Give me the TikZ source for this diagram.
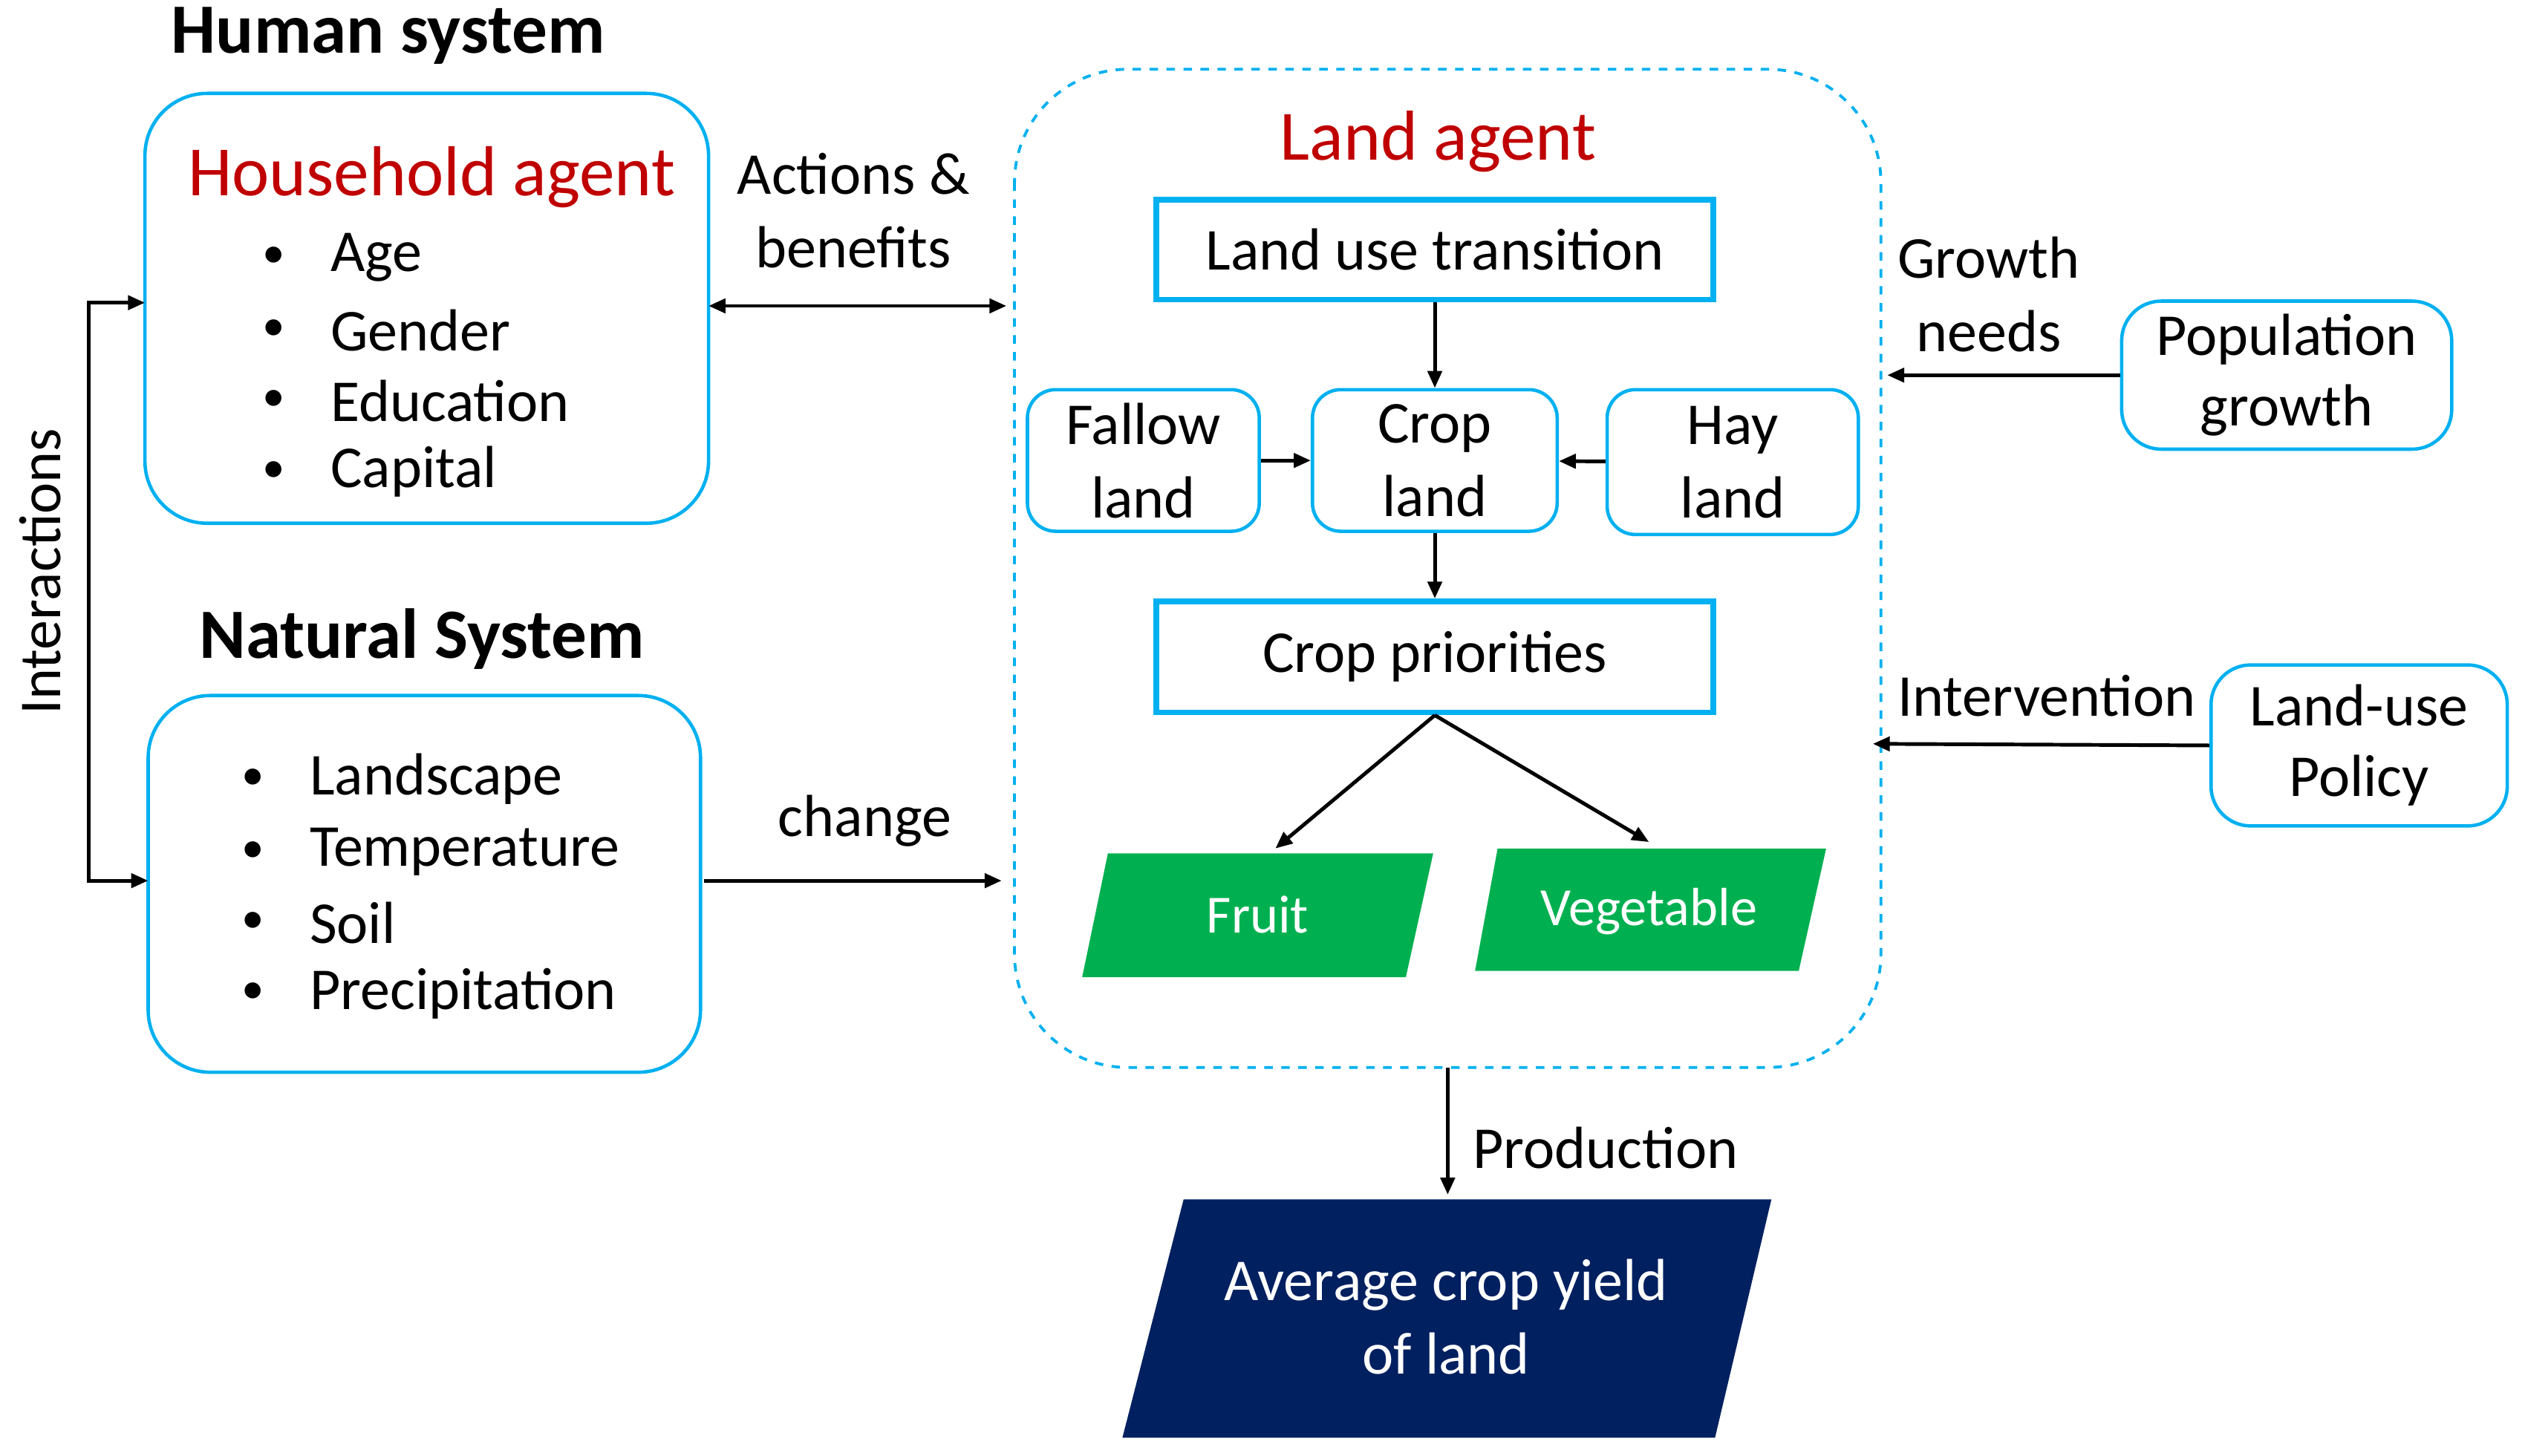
\documentclass[tikz,border=0pt]{standalone}
\usepackage{fontspec}
\setmainfont{Carlito}
\usetikzlibrary{arrows.meta}
\definecolor{cy}{RGB}{0,176,240}
\definecolor{rd}{RGB}{192,0,0}
\definecolor{gr}{RGB}{0,176,80}
\definecolor{nv}{RGB}{0,32,96}
\begin{document}
\begin{tikzpicture}[x=0.02cm,y=-0.02cm,
 rbox/.style={draw=cy,line width=1.2pt,rounded corners=14pt},
 sbox/.style={draw=cy,line width=2pt},
 t/.style={font=\fontsize{21}{24}\selectfont,inner sep=0pt},
 b/.style={font=\fontsize{25}{28}\selectfont\bfseries,inner sep=0pt},
 bul/.style={font=\fontsize{16}{20}\selectfont,inner sep=0pt},
 ar/.style={line width=1.3pt,-{Triangle[length=6pt,width=5pt]}},
 ar2/.style={line width=1.3pt,{Triangle[length=6pt,width=5pt]}-{Triangle[length=6pt,width=5pt]}}]
\useasboundingbox (0,0) rectangle (1568,904);
% Human system
\node[b] (hs) at (241,22) {Human system};
\draw[rbox,rounded corners=22pt] (90,58) rectangle (440,325);
\coordinate (hbL) at (90,188); \coordinate (hbR) at (440,190);
\node[t,text=rd,font=\fontsize{25}{28}\selectfont] (ha) at (268,110) {Household agent};
\foreach \y/\s [count=\i] in {160/Age,205/Gender,249/Education,293/Capital}{
 \node[bul] (hb\i) at (170,\y) {•};
 \node[t,anchor=west] (ht\i) at (205,\y) {\s};}
% Natural system
\node[b] (ns) at (262,397) {Natural System};
\draw[rbox,rounded corners=22pt] (92,432) rectangle (435,666);
\coordinate (nbL) at (92,547); \coordinate (nbR) at (437,547);
\foreach \y/\s [count=\i] in {484/Landscape,529/Temperature,573/Soil,617/Precipitation}{
 \node[bul] (nb\i) at (157,\y) {•};
 \node[t,anchor=west] (nt\i) at (192,\y) {\s};}
% Interactions
\node[t,rotate=90] (int) at (25,355) {Interactions};
\draw[ar2] (hbL) -- (55,188) -- (55,547) -- (nbL);
% Land agent
\draw[draw=cy,line width=1pt,dashed,rounded corners=40pt] (630,43) rectangle (1168,663);
\coordinate (laL1) at (625,190); \coordinate (laL2) at (622,547);
\coordinate (laR1) at (1172,233); \coordinate (laR2) at (1163,462);
\coordinate (laB) at (899,663);
\node[t,text=rd,font=\fontsize{25}{28}\selectfont] (la) at (893,88) {Land agent};
\node[sbox,t,minimum width=6.92cm,minimum height=1.24cm] (lut) at (891,155) {Land use transition};
\node[rbox,t,minimum width=2.88cm,minimum height=1.76cm,align=center,rounded corners=10pt] (fl) at (710,286) {Fallow\\[2pt]land};
\node[rbox,t,minimum width=3.04cm,minimum height=1.76cm,align=center,rounded corners=10pt] (cl) at (891,286) {Crop\\[2pt]land};
\node[rbox,t,minimum width=3.12cm,minimum height=1.8cm,align=center,rounded corners=10pt] (hl) at (1076,287) {Hay\\[2pt]land};
\node[sbox,t,minimum width=6.92cm,minimum height=1.38cm] (cp) at (891,408) {Crop priorities};
\fill[gr] (688,530) -- (890,530) -- (873,607) -- (672,607) -- cycle;
\node[t,text=white,font=\fontsize{19}{22}\selectfont] (fr) at (781,568) {Fruit};
\fill[gr] (930,527) -- (1134,527) -- (1117,603) -- (916,603) -- cycle;
\node[t,text=white,font=\fontsize{19}{22}\selectfont] (vg) at (1024,566) {Vegetable};
\draw[ar] (lut) -- (cl);
\draw[ar] (cl) -- (cp);
\draw[ar] (fl) -- (cl);
\draw[ar] (hl) -- (cl);
\draw[ar] (cp.south) -- (792,527);
\draw[ar] (cp.south) -- (1024,523);
% left arrows
\node[t,align=center] (ab) at (530,131) {Actions \&\\[2pt]benefits};
\draw[ar2] (hbR) -- (laL1);
\node[t] (ch) at (537,510) {change};
\draw[ar] (nbR) -- (laL2);
% right
\node[t,align=center] (gn) at (1235,183) {Growth\\[2pt]needs};
\node[rbox,t,minimum width=4.1cm,minimum height=1.84cm,align=center] (pg) at (1420,233) {Population\\[1pt]growth};
\draw[ar] (pg) -- (laR1);
\node[t] (iv) at (1271,432) {Intervention};
\node[rbox,t,minimum width=3.68cm,minimum height=2cm,align=center] (lp) at (1465,463) {Land-use\\[1pt]Policy};
\draw[ar] (lp.west) -- (laR2);
% production
\fill[nv] (735,745) -- (1100,745) -- (1065,893) -- (697,893) -- cycle;
\node[t,text=white,align=center] (ay) at (898,818) {Average crop yield\\[2pt]of land};
\draw[ar] (laB) -- (899,742);
\node[t] (pr) at (997,713) {Production};
\end{tikzpicture}
\end{document}
